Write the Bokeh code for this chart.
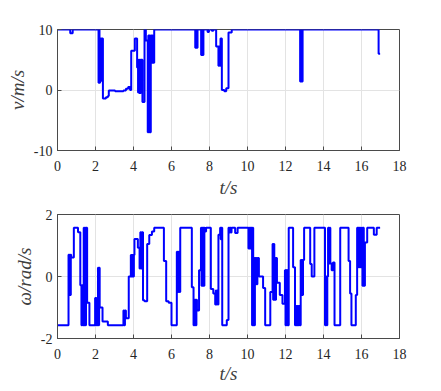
from bokeh.plotting import figure
from bokeh.layouts import column
from bokeh.models import FixedTicker, Range1d
from bokeh.embed import file_html
from bokeh.resources import INLINE

# ---- data ----
t_v = [0.00, 0.67, 0.80, 2.16, 2.19, 2.21, 2.24, 2.27, 2.30, 2.33, 2.36, 2.39,
       2.55, 2.65, 2.70, 3.03, 3.47, 3.60, 3.72, 3.82, 3.88, 4.07, 4.19, 4.24,
       4.27, 4.30, 4.33, 4.36, 4.39, 4.47, 4.58, 4.65, 4.75, 4.78, 4.81, 4.84,
       4.87, 4.91, 4.96, 4.99, 5.02, 5.05, 5.09, 7.25, 7.28, 7.31, 7.37, 7.56,
       7.59, 7.62, 7.68, 7.90, 7.97, 8.12, 8.20, 8.35, 8.47, 8.50, 8.53, 8.58,
       8.65, 8.78, 8.88, 9.00, 9.17, 12.77, 12.80, 12.83, 12.90, 16.90, 16.98]
v_vals = [10.0, 9.4, 10.0, 1.2, 10.0, 1.2, 8.5, 1.5, 8.5, 2.0, 8.5, -1.4,
          -1.2, -1.0, -0.1, -0.2, -0.1, 0.2, 0.5, 0.0, 6.5, 8.5, 3.7, -0.4,
          5.0, -0.5, 5.0, -0.5, 5.0, -2.0, 10.0, 8.2, -7.0, 9.0, -7.0, 9.0,
          -7.0, 9.0, 4.5, 9.0, 4.5, 4.5, 10.0, 7.0, 10.0, 7.0, 10.0, 5.8,
          10.0, 5.8, 10.0, 9.6, 10.0, 9.8, 10.0, 7.2, 4.0, 7.2, 4.0, 8.5,
          0.0, -0.2, 0.3, 9.5, 10.0, 1.4, 10.0, 1.4, 10.0, 6.0, 6.0]

t_w = [0.00, 0.58, 0.61, 0.64, 0.67, 0.70, 0.72, 0.86, 1.08, 1.20, 1.26, 1.29,
       1.33, 1.38, 1.41, 1.44, 1.47, 1.50, 1.56, 1.68, 1.98, 2.02, 2.06, 2.10,
       2.13, 2.16, 2.19, 2.22, 2.37, 2.65, 3.47, 3.51, 3.55, 3.60, 3.75, 3.86,
       3.90, 3.94, 3.98, 4.02, 4.05, 4.23, 4.32, 4.36, 4.40, 4.44, 4.50, 4.58,
       4.72, 4.83, 4.97, 5.09, 5.60, 5.72, 5.85, 6.00, 6.28, 6.31, 6.34, 6.37,
       6.40, 6.43, 6.46, 7.07, 7.16, 7.19, 7.22, 7.25, 7.28, 7.31, 7.34, 7.45,
       7.55, 7.58, 7.61, 7.64, 7.67, 7.70, 7.73, 7.76, 7.82, 8.07, 8.20, 8.30,
       8.33, 8.36, 8.40, 8.44, 8.47, 8.56, 8.59, 8.62, 8.67, 8.91, 9.00, 9.05,
       9.08, 9.12, 9.16, 9.35, 9.48, 10.05, 10.08, 10.11, 10.14, 10.17, 10.20,
       10.24, 10.27, 10.30, 10.33, 10.36, 10.39, 10.42, 10.45, 10.48, 10.52,
       10.60, 10.82, 10.93, 11.20, 11.32, 11.35, 11.38, 11.41, 11.44, 11.47,
       11.50, 11.55, 11.70, 11.84, 11.97, 12.00, 12.03, 12.06, 12.09, 12.12,
       12.17, 12.40, 12.50, 12.53, 12.56, 12.59, 12.62, 12.65, 12.68, 12.71,
       12.75, 12.80, 12.83, 12.86, 12.89, 12.92, 12.98, 13.30, 13.38, 13.52,
       14.08, 14.12, 14.16, 14.20, 14.24, 14.28, 14.32, 14.36, 14.43, 14.50,
       14.58, 14.88, 15.32, 15.40, 15.47, 15.70, 15.77, 15.80, 15.83, 15.86,
       15.89, 15.92, 15.95, 15.98, 16.02, 16.05, 16.08, 16.12, 16.18, 16.30,
       16.65, 16.80, 16.98]
w_vals = [-1.57, 0.70, -0.60, 0.70, -0.60, 0.70, 0.61, 1.57, 1.43, -0.28, -1.57, -0.28,
          -1.57, 1.57, -1.57, 1.57, -1.57, 1.57, -0.85, -1.57, -0.69, -1.57, -0.69, -1.57,
          0.28, -1.57, 0.28, -1.00, -1.45, -1.57, -1.10, -1.57, -1.10, -1.35, 0.00, 0.69,
          0.00, 0.69, 0.00, 0.69, 1.21, 0.93, 0.26, 1.43, 0.26, 1.43, -0.77, -0.80,
          1.05, 1.34, 1.45, 1.57, 0.50, -0.80, -0.85, -1.57, 0.80, -0.50, 0.80, -0.50,
          0.80, -0.50, 1.57, -0.35, -1.57, -0.75, -1.57, -0.75, -1.57, -0.75, -1.10, 0.20,
          1.57, -0.30, 1.57, -0.30, 1.57, -0.30, 1.57, 1.45, 1.57, -0.40, -0.55, -0.90,
          -0.45, -0.90, -0.45, -0.90, 1.35, 1.57, 1.20, 1.57, -1.57, -1.40, 1.57, 1.42,
          1.57, 1.42, 1.57, 1.40, 1.57, 0.90, 1.57, 0.90, 1.57, 0.90, 1.57,
          -1.57, 1.57, -1.57, 0.60, -1.57, 0.60, -0.25, 0.60, -0.25, 0.60,
          0.00, -0.37, -1.57, -0.50, 1.05, -0.75, 1.05, -0.75, 0.60, -0.75,
          0.60, -0.20, -0.60, -0.88, 0.20, -1.57, 0.20, -1.57, 0.20, -1.57,
          1.57, 0.30, -1.57, -0.95, -1.57, -0.95, -1.57, -0.95, -1.57, -0.95,
          -1.57, 0.53, -0.60, 0.53, -0.60, 0.53, 1.57, 0.40, 0.00, 1.57,
          -1.57, 0.00, -1.57, 0.00, 1.57, 0.42, 1.57, 0.42, 0.20, 0.45,
          -1.57, 1.57, 0.50, -0.55, -1.57, -0.60, 1.57, 0.30, 1.57, 0.30,
          1.57, 0.30, 1.57, 0.30, 1.57, -0.30, 1.57, -0.30, 1.10, 1.57,
          1.35, 1.57, 1.57]

x_ticks = [0, 2, 4, 6, 8, 10, 12, 14, 16, 18]
v_ticks = [-10, 0, 10]
w_ticks = [-2, 0, 2]

AX = "#4a4a4a"
FONT = "Times New Roman, Liberation Serif, serif"


def style_axis(ax, ticks):
    ax.ticker = FixedTicker(ticks=ticks)
    ax.axis_line_color = AX
    ax.major_tick_line_color = AX
    ax.major_tick_in = 4
    ax.major_tick_out = 0
    ax.minor_tick_line_color = None
    ax.major_label_text_font = FONT
    ax.major_label_text_color = "#262626"
    ax.major_label_text_font_size = "14px"
    ax.major_label_overrides = {t: str(t) for t in ticks}


def make_fig(h, bt, bb, yr, yticks, ylabel, xs, ys, xlab_standoff):
    p = figure(width=433, height=h, x_range=Range1d(0, 18), y_range=Range1d(*yr),
               output_backend="svg", toolbar_location=None,
               min_border_left=57, min_border_right=34,
               min_border_top=bt, min_border_bottom=bb)
    p.background_fill_color = "white"
    p.border_fill_color = "white"
    p.outline_line_color = AX
    p.outline_line_width = 1
    style_axis(p.xaxis[0], x_ticks)
    style_axis(p.yaxis[0], yticks)
    p.xaxis[0].major_label_standoff = 10
    p.yaxis[0].major_label_standoff = 5
    p.xaxis.axis_label = "t/s"
    p.yaxis.axis_label = ylabel
    for ax in (p.xaxis[0], p.yaxis[0]):
        ax.axis_label_text_font = FONT
        ax.axis_label_text_font_style = "italic"
        ax.axis_label_text_font_size = "19px"
        ax.axis_label_text_color = "#404040"
    p.xaxis[0].axis_label_standoff = xlab_standoff
    p.yaxis[0].axis_label_standoff = 3

    p.xgrid.ticker = FixedTicker(ticks=x_ticks)
    p.ygrid.ticker = FixedTicker(ticks=yticks)
    p.xgrid.grid_line_color = "#e3e3e3"
    p.ygrid.grid_line_color = "#e3e3e3"

    p.step(xs, ys, mode="after", line_color="#0000ff", line_width=2)
    return p


p1 = make_fig(200, 29, 48, (-10, 10), v_ticks, "v/m/s", t_v, v_vals, 3)
p2 = make_fig(188, 14, 50, (-2, 2), w_ticks, "ω/rad/s", t_w, w_vals, 1)

layout = column(p1, p2, spacing=0)
open("out.html", "w").write(file_html(layout, INLINE))
